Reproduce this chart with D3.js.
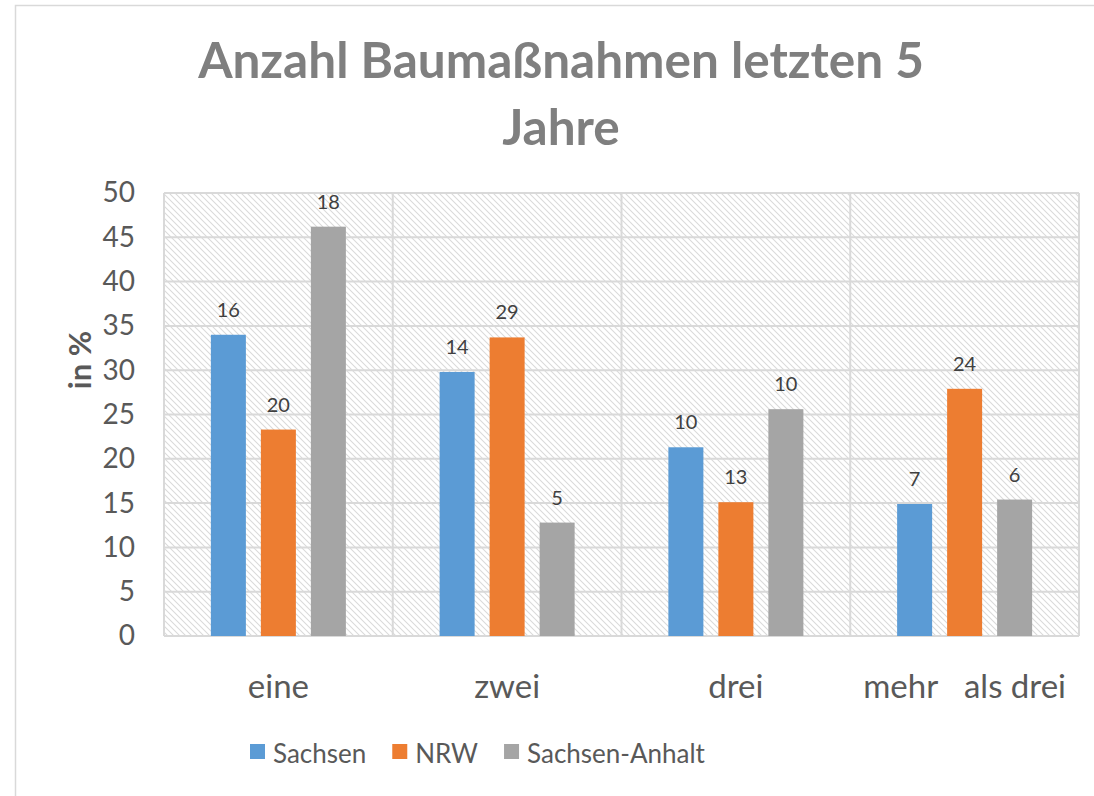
<!DOCTYPE html>
<html>
<head>
<meta charset="utf-8">
<script src="https://cdn.jsdelivr.net/npm/d3@7"></script>
<style>
  body { margin: 0; background: #fff; }
  text { font-family: Lato, "Open Sans", sans-serif; }
</style>
</head>
<body>
<div id="chart"></div>
<script>
// values (bar height = percent, label = count)
const categories = ["eine", "zwei", "drei", "mehr als drei"];
const seriesNames = ["Sachsen", "NRW", "Sachsen-Anhalt"];
const sachsen = [34.0, 29.8, 21.3, 14.9];
const nrw = [23.3, 33.7, 15.1, 27.9];
const sachsenAnhalt = [46.2, 12.8, 25.6, 15.4];
const sachsenCounts = [16, 14, 10, 7];
const nrwCounts = [20, 29, 13, 24];
const sachsenAnhaltCounts = [18, 5, 10, 6];
const colors = ["#5b9bd5", "#ed7d31", "#a5a5a5"];
const yTicks = [0, 5, 10, 15, 20, 25, 30, 35, 40, 45, 50];

const width = 1094, height = 796;
const margin = { top: 193, right: 15, bottom: 160, left: 164 };

const values = [sachsen, nrw, sachsenAnhalt];
const counts = [sachsenCounts, nrwCounts, sachsenAnhaltCounts];
const rows = [];
categories.forEach((c, i) => {
    seriesNames.forEach((s, j) => {
        rows.push({ cat: c, series: s, value: values[j][i], count: counts[j][i], color: colors[j] });
    });
});

const svg = d3.select("#chart").append("svg")
    .attr("width", width)
    .attr("height", height);

// hatch pattern for plot area
const defs = svg.append("defs");
const pat = defs.append("pattern")
    .attr("id", "hatch")
    .attr("patternUnits", "userSpaceOnUse")
    .attr("width", 6)
    .attr("height", 6);
pat.append("path")
    .attr("d", "M0,0 L6,6 M-1,5 L1,7 M5,-1 L7,1")
    .attr("stroke", "#dadada")
    .attr("stroke-width", 1.1);

// chart border
svg.append("rect")
    .attr("x", 15.5).attr("y", 5.5)
    .attr("width", 1100).attr("height", 820)
    .attr("fill", "none")
    .attr("stroke", "#d9d9d9")
    .attr("stroke-width", 1.5);

const x0 = d3.scaleBand()
    .domain(categories)
    .range([margin.left, width - margin.right]);
const x1 = d3.scaleBand()
    .domain(seriesNames)
    .range([0, x0.bandwidth()])
    .paddingInner(0.3)
    .paddingOuter(0.9375);
const y = d3.scaleLinear()
    .domain([0, 50])
    .range([height - margin.bottom, margin.top]);

// plot background
svg.append("rect")
    .attr("x", x0.range()[0]).attr("y", y(50))
    .attr("width", x0.range()[1] - x0.range()[0])
    .attr("height", y(0) - y(50))
    .attr("fill", "url(#hatch)");

// horizontal grid
svg.append("g")
    .selectAll("line")
    .data(yTicks)
    .join("line")
    .attr("x1", x0.range()[0]).attr("x2", x0.range()[1])
    .attr("y1", d => y(d)).attr("y2", d => y(d))
    .attr("stroke", "#d9d9d9")
    .attr("stroke-width", 2);

// vertical grid at category boundaries
const bounds = categories.map(c => x0(c)).concat([x0.range()[1]]);
svg.append("g")
    .selectAll("line")
    .data(bounds)
    .join("line")
    .attr("x1", d => d).attr("x2", d => d)
    .attr("y1", y(50)).attr("y2", y(0))
    .attr("stroke", "#d9d9d9")
    .attr("stroke-width", 2);

// y axis labels
let yAxis = d3.axisLeft(y)
    .tickValues(yTicks)
    .tickSize(0)
    .tickPadding(29);
const ya = svg.append("g")
    .attr("transform", `translate(${margin.left}, 0)`)
    .call(yAxis);
ya.select(".domain").remove();
ya.selectAll("text")
    .attr("font-family", "Lato, sans-serif")
    .attr("font-size", 28)
    .attr("fill", "#595959");

// bars
svg.append("g")
    .selectAll("rect")
    .data(rows)
    .join("rect")
    .attr("x", d => x0(d.cat) + x1(d.series))
    .attr("y", d => y(d.value))
    .attr("width", x1.bandwidth())
    .attr("height", d => y(0) - y(d.value))
    .attr("fill", d => d.color);

// count labels above bars
svg.append("g")
    .selectAll("text")
    .data(rows)
    .join("text")
    .attr("x", d => x0(d.cat) + x1(d.series) + x1.bandwidth() / 2)
    .attr("y", d => y(d.value) - 18)
    .attr("text-anchor", "middle")
    .attr("font-size", 20)
    .attr("fill", "#404040")
    .text(d => d.count);

// category labels
const catG = svg.append("g");
categories.forEach(c => {
    const t = catG.append("text")
        .attr("x", x0(c) + x0.bandwidth() / 2)
        .attr("y", 698)
        .attr("text-anchor", "middle")
        .attr("font-size", 33)
        .attr("fill", "#595959");
    const words = c.split(" ");
    if (words.length > 2) {
        // wrapped label in original keeps a wide gap after the first word
        t.append("tspan").text(words[0]);
        t.append("tspan").attr("dx", 26).text(words.slice(1).join(" "));
    } else {
        t.text(c);
    }
});

// y axis title
svg.append("text")
    .attr("transform", `translate(91, 360) rotate(-90)`)
    .attr("text-anchor", "middle")
    .attr("font-size", 31)
    .attr("font-weight", "bold")
    .attr("fill", "#595959")
    .text("in %");

// title
const title = svg.append("text")
    .attr("text-anchor", "middle")
    .attr("font-size", 49.5)
    .attr("font-weight", "bold")
    .attr("fill", "#7f7f7f");
title.append("tspan").attr("x", 561).attr("y", 78).text("Anzahl Baumaßnahmen letzten 5");
title.append("tspan").attr("x", 561).attr("y", 145).text("Jahre");

// legend
const legend = svg.append("g");
let lx = 250;
seriesNames.forEach((s, i) => {
    legend.append("rect")
        .attr("x", lx).attr("y", 744)
        .attr("width", 15).attr("height", 15)
        .attr("fill", colors[i]);
    const t = legend.append("text")
        .attr("x", lx + 23).attr("y", 763)
        .attr("font-size", 26)
        .attr("fill", "#595959")
        .text(s);
    lx += 23 + t.node().getComputedTextLength() + 26;
});
</script>
</body>
</html>
